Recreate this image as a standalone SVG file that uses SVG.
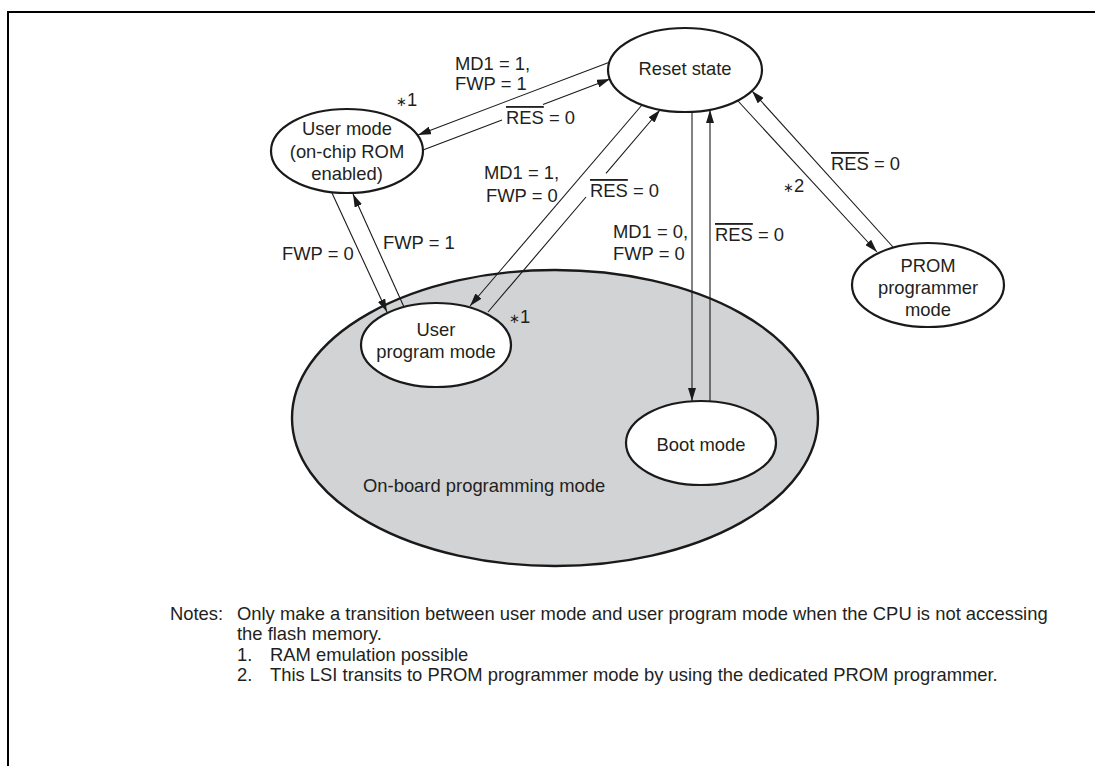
<svg xmlns="http://www.w3.org/2000/svg" width="1095" height="766" viewBox="0 0 1095 766">
<style>
  text { font-family: "Liberation Sans", Arial, sans-serif; font-size: 18.4px; fill: #231f20; }
  .mid { text-anchor: middle; }
  .node { fill: #ffffff; stroke: #1a1a1a; stroke-width: 2.2; }
  .region { fill: #d1d3d4; stroke: #1a1a1a; stroke-width: 2.4; }
  .conn { fill: none; stroke: #1a1a1a; stroke-width: 1.1; marker-end: url(#arr); }
  .ov { text-decoration: overline; }
  .ast { font-family: "DejaVu Sans", sans-serif; font-size: 13px; }
</style>
<defs>
  <marker id="arr" viewBox="0 0 13 8" refX="13" refY="4" markerWidth="13" markerHeight="8" markerUnits="userSpaceOnUse" orient="auto">
    <path d="M0,0 L13,4 L0,8 z" fill="#1a1a1a"/>
  </marker>
</defs>
<rect width="1095" height="766" fill="#ffffff"/>
<path d="M8,766 L8,12 L1095,12" fill="none" stroke="#000" stroke-width="2"/>

<g id="onboard">
  <ellipse class="region" cx="555" cy="418" rx="263" ry="148"/>
  <text x="363" y="492">On-board programming mode</text>
</g>

<g id="connectors">
  <path class="conn" d="M610,62 L418,135"/>
  <path class="conn" d="M423,150 L502,120 M543,104.5 L610,79"/>
  <path class="conn" d="M642,105 L470,306"/>
  <path class="conn" d="M488,312 L586,197 M606,173.4 L660,110"/>
  <path class="conn" d="M692,112 L692,401"/>
  <path class="conn" d="M710,401.5 L710,110"/>
  <path class="conn" d="M738,101 L877,252"/>
  <path class="conn" d="M893,247 L752,91"/>
  <path class="conn" d="M332,193 L387,312"/>
  <path class="conn" d="M404,307 L353,194"/>
</g>

<g id="labels">
  <text x="455" y="70">MD1 = 1,</text>
  <text x="455" y="90">FWP = 1</text>
  <text x="506" y="124"><tspan class="ov">RES</tspan> = 0</text>
  <text x="484" y="179">MD1 = 1,</text>
  <text x="486" y="202">FWP = 0</text>
  <text x="590" y="197"><tspan class="ov">RES</tspan> = 0</text>
  <text x="282" y="260">FWP = 0</text>
  <text x="383" y="249">FWP = 1</text>
  <text x="613" y="238">MD1 = 0,</text>
  <text x="613" y="260">FWP = 0</text>
  <text x="715" y="241"><tspan class="ov">RES</tspan> = 0</text>
  <text x="831" y="170"><tspan class="ov">RES</tspan> = 0</text>
  <text x="396" y="106"><tspan class="ast">∗</tspan>1</text>
  <text x="509" y="323"><tspan class="ast">∗</tspan>1</text>
  <text x="783" y="192"><tspan class="ast">∗</tspan>2</text>
</g>

<g id="reset">
  <ellipse class="node" cx="685" cy="70" rx="77" ry="42"/>
  <text class="mid" x="685" y="75">Reset state</text>
</g>
<g id="usermode">
  <ellipse class="node" cx="347" cy="151" rx="76" ry="42"/>
  <text class="mid" x="347" y="135">User mode</text>
  <text class="mid" x="347" y="158">(on-chip ROM</text>
  <text class="mid" x="347" y="180">enabled)</text>
</g>
<g id="userprogram">
  <ellipse class="node" cx="436" cy="345" rx="75" ry="42"/>
  <text class="mid" x="436" y="336">User</text>
  <text class="mid" x="436" y="358">program mode</text>
</g>
<g id="boot">
  <ellipse class="node" cx="701" cy="443" rx="75" ry="42"/>
  <text class="mid" x="701" y="451">Boot mode</text>
</g>
<g id="prom">
  <ellipse class="node" cx="928" cy="285" rx="76" ry="42"/>
  <text class="mid" x="928" y="272">PROM</text>
  <text class="mid" x="928" y="294">programmer</text>
  <text class="mid" x="928" y="316">mode</text>
</g>

<g id="notes">
  <text x="170" y="620">Notes:</text>
  <text x="237" y="620">Only make a transition between user mode and user program mode when the CPU is not accessing</text>
  <text x="237" y="640">the flash memory.</text>
  <text x="237" y="661">1.</text>
  <text x="270" y="661">RAM emulation possible</text>
  <text x="237" y="681">2.</text>
  <text x="270" y="681">This LSI transits to PROM programmer mode by using the dedicated PROM programmer.</text>
</g>
</svg>
